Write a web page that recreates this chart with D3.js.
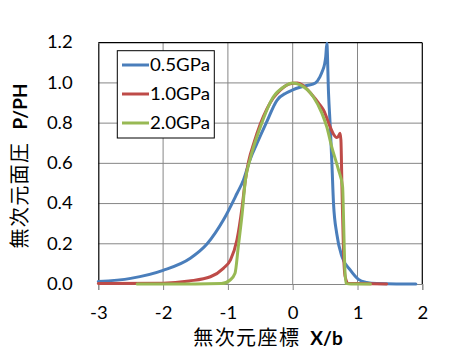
<!DOCTYPE html>
<html><head><meta charset="utf-8">
<script src="https://cdn.jsdelivr.net/npm/d3@7"></script>
<style>body{margin:0;background:#fff} svg{display:block}</style>
</head><body><svg id="c" width="465" height="355"></svg>
<script>
const xTicks = [-3, -2, -1, 0, 1, 2];
const yTicks = [0, 0.2, 0.4, 0.6, 0.8, 1.0, 1.2];
const seriesNames = ["0.5GPa", "1.0GPa", "2.0GPa"];
const seriesColors = ["#4A7EBB", "#BE4B48", "#98B954"];

const blueX = [-3, -2.5, -2, -1.58, -1.32, -1.07, -0.86, -0.76, -0.66, -0.55, -0.41, -0.24, -0.1, 0, 0.1, 0.22, 0.35, 0.42, 0.46, 0.49, 0.51, 0.527, 0.553, 0.58, 0.605, 0.63, 0.68, 0.76, 0.887, 1.015, 1.14, 1.3, 1.6, 1.9];
const blueP = [0.012, 0.028, 0.068, 0.128, 0.2, 0.318, 0.45, 0.517, 0.617, 0.70, 0.8, 0.915, 0.95, 0.965, 0.977, 0.987, 1.0, 1.03, 1.06, 1.09, 1.13, 1.197, 0.948, 0.78, 0.6, 0.4, 0.25, 0.136, 0.07, 0.023, 0.008, 0.002, 0, 0];

const redX = [-3, -2, -1.6, -1.27, -1.07, -0.96, -0.86, -0.78, -0.73, -0.68, -0.6, -0.5, -0.4, -0.3, -0.2, -0.1, 0, 0.07, 0.15, 0.3, 0.4, 0.475, 0.58, 0.63, 0.68, 0.707, 0.73, 0.744, 0.76, 0.785, 0.81, 0.86, 1.0, 1.45];
const redP = [0.002, 0.004, 0.015, 0.036, 0.078, 0.12, 0.22, 0.385, 0.517, 0.61, 0.7, 0.795, 0.87, 0.925, 0.962, 0.988, 0.998, 1.0, 0.99, 0.94, 0.9, 0.865, 0.78, 0.745, 0.728, 0.735, 0.75, 0.716, 0.484, 0.153, 0.036, 0.003, 0.002, 0];

const greenX = [-2.4, -1.5, -1.1, -0.965, -0.89, -0.84, -0.78, -0.73, -0.66, -0.5, -0.3, -0.14, 0, 0.116, 0.32, 0.45, 0.527, 0.6, 0.707, 0.77, 0.785, 0.8, 0.82, 0.9, 1.2];
const greenP = [0, 0, 0.002, 0.02, 0.053, 0.185, 0.35, 0.517, 0.617, 0.78, 0.93, 0.98, 1.0, 0.99, 0.93, 0.85, 0.78, 0.685, 0.567, 0.484, 0.318, 0.12, 0.003, 0, 0];

const seriesX = [blueX, redX, greenX];
const seriesP = [blueP, redP, greenP];

const svg = d3.select("#c");
const x = d3.scaleLinear().domain([-3, 2]).range([98.3, 422.3]);
const y = d3.scaleLinear().domain([0, 1.2]).range([284, 42.7]);
const numFont = "Lato, 'Open Sans', sans-serif";
const cjkFont = "'Noto Sans CJK JP', sans-serif";

function stretch(sel, k) {
  sel.each(function () {
    const len = this.getComputedTextLength();
    d3.select(this).attr("textLength", len * k).attr("lengthAdjust", "spacingAndGlyphs");
  });
}

// gridlines
svg.append("g").selectAll("line").data(yTicks.filter(d => d > 0 && d < 1.2)).join("line")
  .attr("x1", x(-3)).attr("x2", x(2)).attr("y1", d => y(d)).attr("y2", d => y(d))
  .attr("stroke", "#868686").attr("stroke-width", 1);
svg.append("g").selectAll("line").data(xTicks.filter(d => d > -3 && d < 2)).join("line")
  .attr("x1", d => x(d)).attr("x2", d => x(d)).attr("y1", y(0)).attr("y2", y(1.2))
  .attr("stroke", "#868686").attr("stroke-width", 1);

// bottom axis
const gx = svg.append("g").attr("transform", `translate(0,${y(0)})`)
  .call(d3.axisBottom(x).tickValues(xTicks).tickFormat(d => String(d)).tickSize(6).tickPadding(17));
gx.select(".domain").attr("stroke", "#868686").attr("stroke-width", 1);
gx.selectAll(".tick line").attr("stroke", "#868686");
gx.selectAll("text").attr("font-family", numFont).attr("font-size", 16.5).attr("fill", "#000");
stretch(gx.selectAll("text"), 1.12);

// left axis
const gy = svg.append("g").attr("transform", `translate(${x(-3)},0)`)
  .call(d3.axisLeft(y).tickValues(yTicks).tickFormat(d3.format(".1f")).tickSize(0).tickPadding(25.6));
gy.select(".domain").attr("stroke", "#000").attr("stroke-width", 1.2);
gy.selectAll("text").attr("font-family", numFont).attr("font-size", 16.5).attr("fill", "#000");
stretch(gy.selectAll("text"), 1.12);

// top and right borders
svg.append("line").attr("x1", x(-3)).attr("x2", x(2)).attr("y1", y(1.2)).attr("y2", y(1.2))
  .attr("stroke", "#000").attr("stroke-width", 1.2);
svg.append("line").attr("x1", x(2)).attr("x2", x(2)).attr("y1", y(1.2)).attr("y2", y(0))
  .attr("stroke", "#000").attr("stroke-width", 1.2);

// series
const line = d3.line().x(d => x(d[0])).y(d => y(d[1])).curve(d3.curveMonotoneX);
seriesX.forEach((xs, i) => {
  const pts = xs.map((v, j) => [v, seriesP[i][j]]);
  svg.append("path").datum(pts).attr("d", line)
    .attr("fill", "none").attr("stroke", seriesColors[i]).attr("stroke-width", 3)
    .attr("stroke-linejoin", "round").attr("stroke-linecap", "round");
});

// legend
const lg = svg.append("g");
lg.append("rect").attr("x", 117.3).attr("y", 50.7).attr("width", 97).attr("height", 87.3)
  .attr("fill", "#fff").attr("stroke", "#000").attr("stroke-width", 1);
seriesNames.forEach((n, i) => {
  const yy = 65 + i * 29;
  lg.append("line").attr("x1", 122).attr("x2", 149).attr("y1", yy).attr("y2", yy)
    .attr("stroke", seriesColors[i]).attr("stroke-width", 3);
  lg.append("text").attr("x", 150).attr("y", yy).attr("dy", "0.36em")
    .attr("font-family", numFont).attr("font-size", 18).attr("fill", "#000")
    .attr("textLength", 60).attr("lengthAdjust", "spacingAndGlyphs").text(n);
});

// y title
const yt = svg.append("text").attr("transform", "translate(27,166) rotate(-90)")
  .attr("text-anchor", "middle").attr("fill", "#000");
yt.append("tspan").attr("font-family", cjkFont).attr("font-size", 20).attr("letter-spacing", 1.4).text("無次元面圧");
yt.append("tspan").attr("dx", 12).attr("font-family", numFont).attr("font-weight", "bold").attr("font-size", 19).text("P/PH");

// x title
const xt = svg.append("text").attr("x", 268).attr("y", 345)
  .attr("text-anchor", "middle").attr("fill", "#000");
xt.append("tspan").attr("font-family", cjkFont).attr("font-size", 20).attr("letter-spacing", 1.4).text("無次元座標");
xt.append("tspan").attr("dx", 10).attr("font-family", numFont).attr("font-weight", "bold").attr("font-size", 19).text("X/b");
</script></body></html>
